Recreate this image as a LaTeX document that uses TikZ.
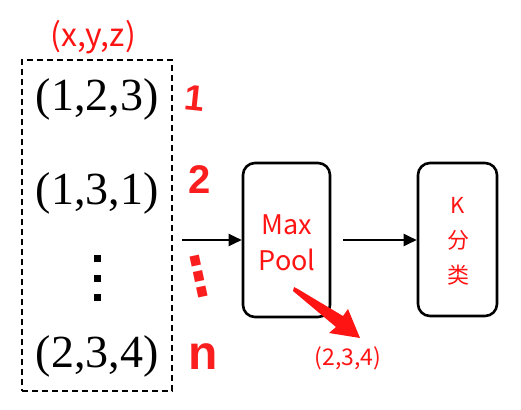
\documentclass[tikz,border=0pt]{standalone}
\usepackage{fontspec}
\setmainfont{Liberation Serif}
\newfontfamily\cjk{Noto Sans CJK SC}
\newfontfamily\hand{Liberation Sans}
\newfontfamily\handdots{DejaVu Sans}
\usetikzlibrary{arrows.meta}
\definecolor{myred}{RGB}{255,20,20}
\definecolor{hred}{RGB}{250,30,30}
\begin{document}
\begin{tikzpicture}[x=1pt,y=-1pt,
 tup/.style={font=\fontsize{46}{46}\selectfont, inner sep=0},
 redsans/.style={text=myred, font=\cjk\fontsize{#1}{#1}\selectfont, inner sep=0},
 hw/.style={text=hred, font=\hand\bfseries\fontsize{#1}{#1}\selectfont, inner sep=0},
 blk/.style={draw=black, line width=2.6pt, rounded corners=12pt, inner sep=0},
 conn/.style={-{Triangle[length=13pt,width=12pt]}, line width=2.2pt}
]
\useasboundingbox (0,0) rectangle (521,409);
% dashed group
\node (grp) [draw, line width=2.4pt, dash pattern=on 6pt off 4pt, minimum width=150pt, minimum height=331pt, inner sep=0] at (97,225.5) {};
\node (xyz) [redsans=32] at (93,37) {(x,y,z)};
\node (t1) [tup] at (97,99) {(1,2,3)};
\node (t2) [tup] at (97,193) {(1,3,1)};
\node (t3) [tup] at (97,356) {(2,3,4)};
\fill (93.5,254.5) rectangle +(7,7);
\fill (93.5,274.5) rectangle +(7,7);
\fill (93.5,293.5) rectangle +(7,7);
% handwritten indices
\node (h1) [hw=36, rotate=-6] at (195,98) {1};
\node (h2) [hw=40] at (200,180) {2};
\node (h3) [text=hred, inner sep=0, font=\handdots\bfseries\fontsize{54}{54}\selectfont, rotate=12] at (199,277) {⋮};
\node (h4) [hw=48] at (203,357) {n};
% boxes
\node (mp) [blk, minimum width=87pt, minimum height=154pt] at (286.5,240) {};
\node (max) [redsans=27] at (287,225) {Max};
\node (pool) [redsans=27] at (287,260) {Pool};
\node (kb) [blk, minimum width=79pt, minimum height=153pt] at (457.5,239.5) {};
\node (k1) [redsans=22] at (458,205) {K};
\node (k2) [redsans=22] at (458,240) {分};
\node (k3) [redsans=22] at (458,275) {类};
% connectors
\coordinate (a1) at (182,240);
\draw[conn] (a1) -- (mp.west |- a1);
\coordinate (a2) at (343,240);
\draw[conn] (a2) -- (kb.west |- a2);
% red fat arrow
\fill[myred] (294,287) -- (297,288.5) -- (343,316) -- (348,309) -- (360,338) -- (329,333) -- (336,327) -- (293,291) -- cycle;
\node (res) [redsans=23] at (348,358) {(2,3,4)};
\end{tikzpicture}
\end{document}
